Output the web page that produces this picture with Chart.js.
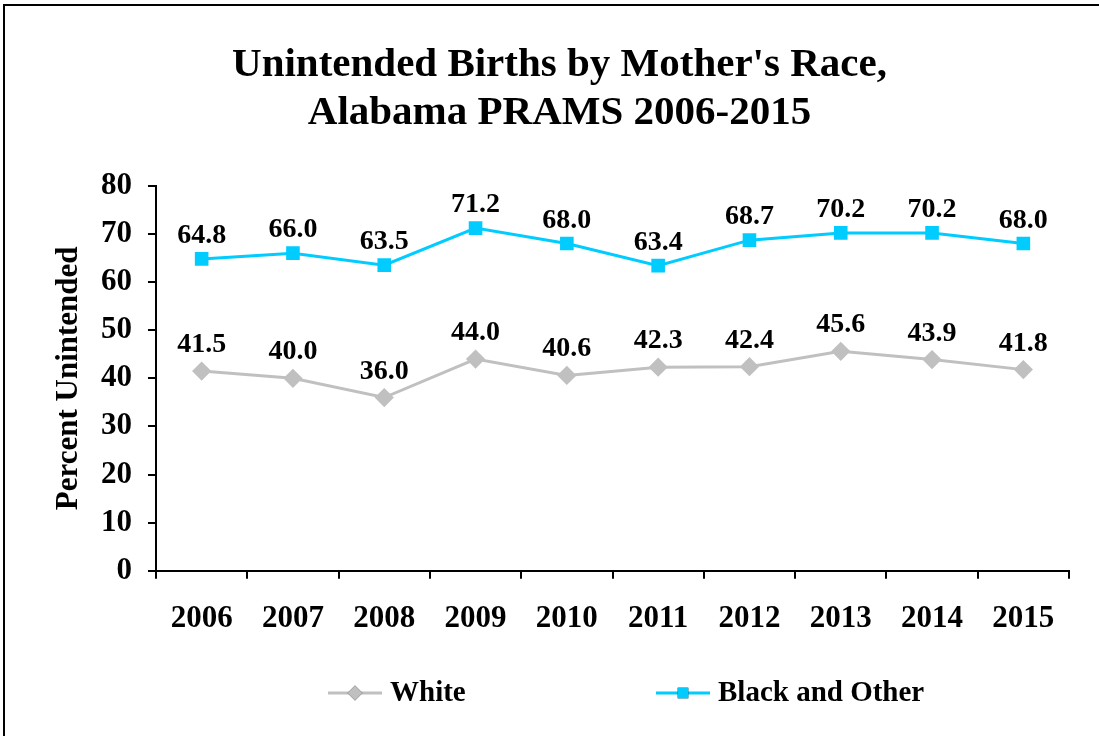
<!DOCTYPE html>
<html>
<head>
<meta charset="utf-8">
<script src="https://cdn.jsdelivr.net/npm/chart.js@4.4.1/dist/chart.umd.min.js"></script>
<style>
  html, body { margin: 0; padding: 0; background: #fff; overflow: hidden; }
  #wrap { position: relative; width: 1099px; height: 736px; }
  #frame {
    position: absolute; left: 3px; top: 4px; right: -10px; bottom: -10px;
    border-top: 2px solid #000; border-left: 2px solid #000; pointer-events: none;
  }
</style>
</head>
<body>
<div id="wrap">
  <canvas id="chart" width="1099" height="736"></canvas>
  <div id="frame"></div>
</div>
<script>
  // Chart data
  const years = ["2006", "2007", "2008", "2009", "2010", "2011", "2012", "2013", "2014", "2015"];
  const white = [41.5, 40.0, 36.0, 44.0, 40.6, 42.3, 42.4, 45.6, 43.9, 41.8];
  const blackOther = [64.8, 66.0, 63.5, 71.2, 68.0, 63.4, 68.7, 70.2, 70.2, 68.0];
  const yTicks = [0, 10, 20, 30, 40, 50, 60, 70, 80];

  const serif = "'Liberation Serif', 'Times New Roman', serif";

  // Value labels above each point
  const pointLabels = {
    id: "pointLabels",
    afterDatasetsDraw(chart) {
      const ctx = chart.ctx;
      ctx.save();
      ctx.font = "bold 28px " + serif;
      ctx.fillStyle = "#000";
      ctx.textAlign = "center";
      ctx.textBaseline = "alphabetic";
      chart.data.datasets.forEach((ds, i) => {
        const meta = chart.getDatasetMeta(i);
        meta.data.forEach((pt, j) => {
          ctx.fillText(ds.data[j].toFixed(1), pt.x, pt.y - ds.labelGap);
        });
      });
      ctx.restore();
    },
  };

  // Legend with line + marker samples
  const lineLegend = {
    id: "lineLegend",
    afterDraw(chart) {
      const ctx = chart.ctx;
      const starts = [328, 656];
      const y = 693;
      ctx.save();
      chart.data.datasets.forEach((ds, i) => {
        const x0 = starts[i];
        ctx.strokeStyle = ds.borderColor;
        ctx.lineWidth = 3;
        ctx.beginPath();
        ctx.moveTo(x0, y);
        ctx.lineTo(x0 + 54, y);
        ctx.stroke();
        Chart.helpers.drawPoint(ctx, {
          pointStyle: ds.pointStyle,
          radius: ds.pointRadius,
          borderWidth: 0,
        }, x0 + 27, y);
        ctx.fillStyle = ds.pointBackgroundColor;
        ctx.fill();
        ctx.fillStyle = "#000";
        ctx.font = "bold 29px " + serif;
        ctx.textAlign = "left";
        ctx.textBaseline = "middle";
        ctx.fillText(ds.label, x0 + 62, y + 1);
      });
      ctx.restore();
    },
  };

  new Chart(document.getElementById("chart"), {
    type: "line",
    data: {
      labels: years,
      datasets: [
        {
          label: "White",
          data: white,
          borderColor: "#C0C0C0",
          backgroundColor: "#C0C0C0",
          pointBackgroundColor: "#C0C0C0",
          pointBorderColor: "#C0C0C0",
          pointStyle: "rectRot",
          pointRadius: 7.5,
          borderWidth: 3,
          labelGap: 19,
        },
        {
          label: "Black and Other",
          data: blackOther,
          borderColor: "#00CCFF",
          backgroundColor: "#00CCFF",
          pointBackgroundColor: "#00CCFF",
          pointBorderColor: "#00CCFF",
          pointStyle: "rect",
          pointRadius: 7.5,
          borderWidth: 3,
          labelGap: 16,
        },
      ],
    },
    options: {
      responsive: false,
      animation: false,
      layout: {
        padding: { left: 50, right: 30, top: 0, bottom: 76 },
      },
      plugins: {
        legend: { display: false },
        tooltip: { enabled: false },
        title: {
          display: true,
          text: ["Unintended Births by Mother's Race,", "Alabama PRAMS 2006-2015"],
          color: "#000",
          font: { family: serif, size: 41, weight: "bold", lineHeight: 1.18 },
          padding: { top: 41, bottom: 48 },
        },
      },
      scales: {
        x: {
          offset: true,
          grid: {
            offset: true,
            drawOnChartArea: false,
            color: "#000",
            lineWidth: 2,
            tickLength: 8,
          },
          border: { color: "#000", width: 2 },
          ticks: {
            color: "#000",
            padding: 22,
            maxRotation: 0,
            font: { family: serif, size: 31, weight: "bold" },
          },
        },
        y: {
          min: 0,
          max: 80,
          afterBuildTicks(scale) {
            scale.ticks = yTicks.map((v) => ({ value: v }));
          },
          afterFit(scale) {
            scale.width = 106;
          },
          grid: {
            drawOnChartArea: false,
            color: "#000",
            lineWidth: 2,
            tickLength: 8,
          },
          border: { color: "#000", width: 2 },
          ticks: {
            color: "#000",
            padding: 16,
            font: { family: serif, size: 31, weight: "bold" },
          },
          title: {
            display: true,
            text: "Percent Unintended",
            color: "#000",
            padding: 0,
            font: { family: serif, size: 31, weight: "bold" },
          },
        },
      },
    },
    plugins: [pointLabels, lineLegend],
  });
</script>
</body>
</html>
